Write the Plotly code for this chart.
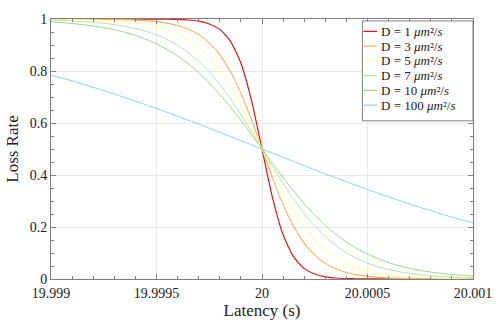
import plotly.graph_objects as go

# Latency grid (s)
latency = [19.999, 19.99905, 19.9991, 19.99915, 19.9992, 19.99925, 19.9993, 19.99935, 19.9994, 19.99945,
           19.9995, 19.99955, 19.9996, 19.99965, 19.9997, 19.99975, 19.9998, 19.99985, 19.9999, 19.99995,
           20.0,
           20.00005, 20.0001, 20.00015, 20.0002, 20.00025, 20.0003, 20.00035, 20.0004, 20.00045, 20.0005,
           20.00055, 20.0006, 20.00065, 20.0007, 20.00075, 20.0008, 20.00085, 20.0009, 20.00095, 20.001]

loss_d1 = [1, 1, 1, 1, 1, 0.99999, 0.99998, 0.99996, 0.9999, 0.9998, 0.9996, 0.9992, 0.9982, 0.9961, 0.9915,
           0.981, 0.960, 0.915, 0.830, 0.688,
           0.5,
           0.312, 0.170, 0.085, 0.040, 0.019, 0.0085, 0.0039, 0.0018, 0.0008, 0.0004, 0.0002, 0.0001, 0.00004,
           0.00002, 0.00001, 0, 0, 0, 0, 0]
loss_d3 = [0.9999, 0.99984, 0.99975, 0.9996, 0.9994, 0.999, 0.9984, 0.9974, 0.9959, 0.9936, 0.990, 0.984,
           0.975, 0.961, 0.940, 0.908, 0.862, 0.798, 0.714, 0.613,
           0.5,
           0.387, 0.286, 0.202, 0.138, 0.092, 0.060, 0.039, 0.025, 0.016, 0.010, 0.0064, 0.0041, 0.0026,
           0.0016, 0.0010, 0.0006, 0.0004, 0.00025, 0.00016, 0.0001]
loss_d5 = [0.999, 0.9986, 0.9981, 0.9973, 0.9962, 0.9946, 0.9924, 0.989, 0.985, 0.979, 0.970, 0.958, 0.942,
           0.919, 0.889, 0.850, 0.801, 0.739, 0.667, 0.586,
           0.5,
           0.414, 0.333, 0.261, 0.199, 0.150, 0.111, 0.081, 0.058, 0.042, 0.030, 0.021, 0.015, 0.011, 0.0076,
           0.0054, 0.0038, 0.0027, 0.0019, 0.0014, 0.0010]
loss_d7 = [0.9957, 0.9944, 0.9927, 0.9904, 0.9874, 0.9836, 0.9785, 0.972, 0.963, 0.953, 0.939, 0.921, 0.899,
           0.871, 0.837, 0.796, 0.749, 0.694, 0.633, 0.568,
           0.5,
           0.432, 0.367, 0.306, 0.251, 0.204, 0.163, 0.129, 0.101, 0.079, 0.061, 0.047, 0.037, 0.028, 0.0215,
           0.0164, 0.0126, 0.0096, 0.0073, 0.0056, 0.0043]
loss_d10 = [0.9889, 0.9861, 0.9827, 0.9785, 0.973, 0.967, 0.959, 0.949, 0.937, 0.922, 0.904, 0.883, 0.858,
            0.828, 0.794, 0.754, 0.710, 0.662, 0.610, 0.556,
            0.5,
            0.444, 0.390, 0.338, 0.290, 0.246, 0.206, 0.172, 0.142, 0.117, 0.096, 0.078, 0.063, 0.051, 0.041,
            0.033, 0.027, 0.0215, 0.0173, 0.0139, 0.0111]
loss_d100 = [0.784, 0.773, 0.762, 0.750, 0.737, 0.725, 0.712, 0.698, 0.684, 0.670, 0.656, 0.641, 0.626,
             0.611, 0.596, 0.580, 0.564, 0.548, 0.532, 0.516,
             0.5,
             0.484, 0.468, 0.452, 0.436, 0.420, 0.404, 0.389, 0.374, 0.359, 0.344, 0.330, 0.316, 0.302, 0.288,
             0.275, 0.263, 0.250, 0.238, 0.227, 0.216]

diffusion = ["1", "3", "5", "7", "10", "100"]
series_values = [loss_d1, loss_d3, loss_d5, loss_d7, loss_d10, loss_d100]
colors = ["#d7191c", "#fdae61", "#ffff9e", "#b9e3aa", "#9dd68c", "#8ad2f2"]
widths = [1.2, 1.1, 1.0, 1.0, 1.0, 1.0]

x_tickvals = [19.999, 19.9995, 20.0, 20.0005, 20.001]
x_ticktext = ["19.999", "19.9995", "20", "20.0005", "20.001"]
y_tickvals = [0, 0.2, 0.4, 0.6, 0.8, 1]
y_ticktext = ["0", "0.2", "0.4", "0.6", "0.8", "1"]

FONT = "Liberation Serif, DejaVu Serif, serif"
TXT = "#222222"
AX = "#7f7f7f"

fig = go.Figure()
for d, vals, c, w in zip(diffusion, series_values, colors, widths):
    fig.add_trace(go.Scatter(x=latency, y=vals, mode="lines",
                             name=f"D = {d} μm²/s", showlegend=False,
                             line=dict(color=c, width=w, shape="spline", smoothing=0.6)))

axis_common = dict(showline=True, linecolor=AX, linewidth=1, mirror="allticks",
                   ticks="inside", ticklen=5, tickcolor=AX, tickwidth=1,
                   showgrid=True, gridcolor="#e8e8e8", gridwidth=1, zeroline=False,
                   tickfont=dict(family=FONT, size=14, color=TXT))

fig.update_xaxes(range=[19.999, 20.001], tickmode="array", tickvals=x_tickvals, ticktext=x_ticktext,
                 ticklabelstandoff=1,
                 minor=dict(dtick=0.0001, tick0=19.999, ticklen=3, tickcolor=AX, ticks="inside",
                            showgrid=False),
                 title=dict(text="Latency (s)", font=dict(family=FONT, size=17, color=TXT), standoff=3),
                 **axis_common)
fig.update_yaxes(range=[0, 1], tickmode="array", tickvals=y_tickvals, ticktext=y_ticktext,
                 minor=dict(dtick=0.05, tick0=0, ticklen=3, tickcolor=AX, ticks="inside",
                            showgrid=False),
                 title=dict(text="Loss Rate", font=dict(family=FONT, size=17, color=TXT), standoff=6),
                 **axis_common)

# Hand-built legend box (top-right, inside the plot area)
plot_w, plot_h = 431.0, 266.3
box_x0 = (367 - 49) / plot_w
box_y0 = (279.3 - 117.3) / plot_h
box_y1 = (279.3 - 15) / plot_h
shapes = [dict(type="rect", xref="paper", yref="paper", x0=box_x0, x1=1.0, y0=box_y0, y1=box_y1,
               line=dict(color=AX, width=1), fillcolor="white", layer="above")]
annotations = []
for i, (d, c) in enumerate(zip(diffusion, colors)):
    yy = (279.3 - (25.7 + 15.1 * i)) / plot_h
    shapes.append(dict(type="line", xref="paper", yref="paper",
                       x0=(368 - 49) / plot_w, x1=(382 - 49) / plot_w, y0=yy, y1=yy,
                       line=dict(color=c, width=1.2), layer="above"))
    annotations.append(dict(xref="paper", yref="paper", x=(384 - 49) / plot_w, y=yy,
                            xanchor="left", yanchor="middle", showarrow=False,
                            text=f"D = {d} <i>μm</i>²/<i>s</i>",
                            font=dict(family=FONT, size=13, color=TXT)))

fig.update_layout(width=504, height=328, margin=dict(l=49, r=24, t=13, b=49),
                  plot_bgcolor="white", paper_bgcolor="white",
                  font=dict(family=FONT, color=TXT), showlegend=False,
                  shapes=shapes, annotations=annotations)

fig.write_html("out.html")
